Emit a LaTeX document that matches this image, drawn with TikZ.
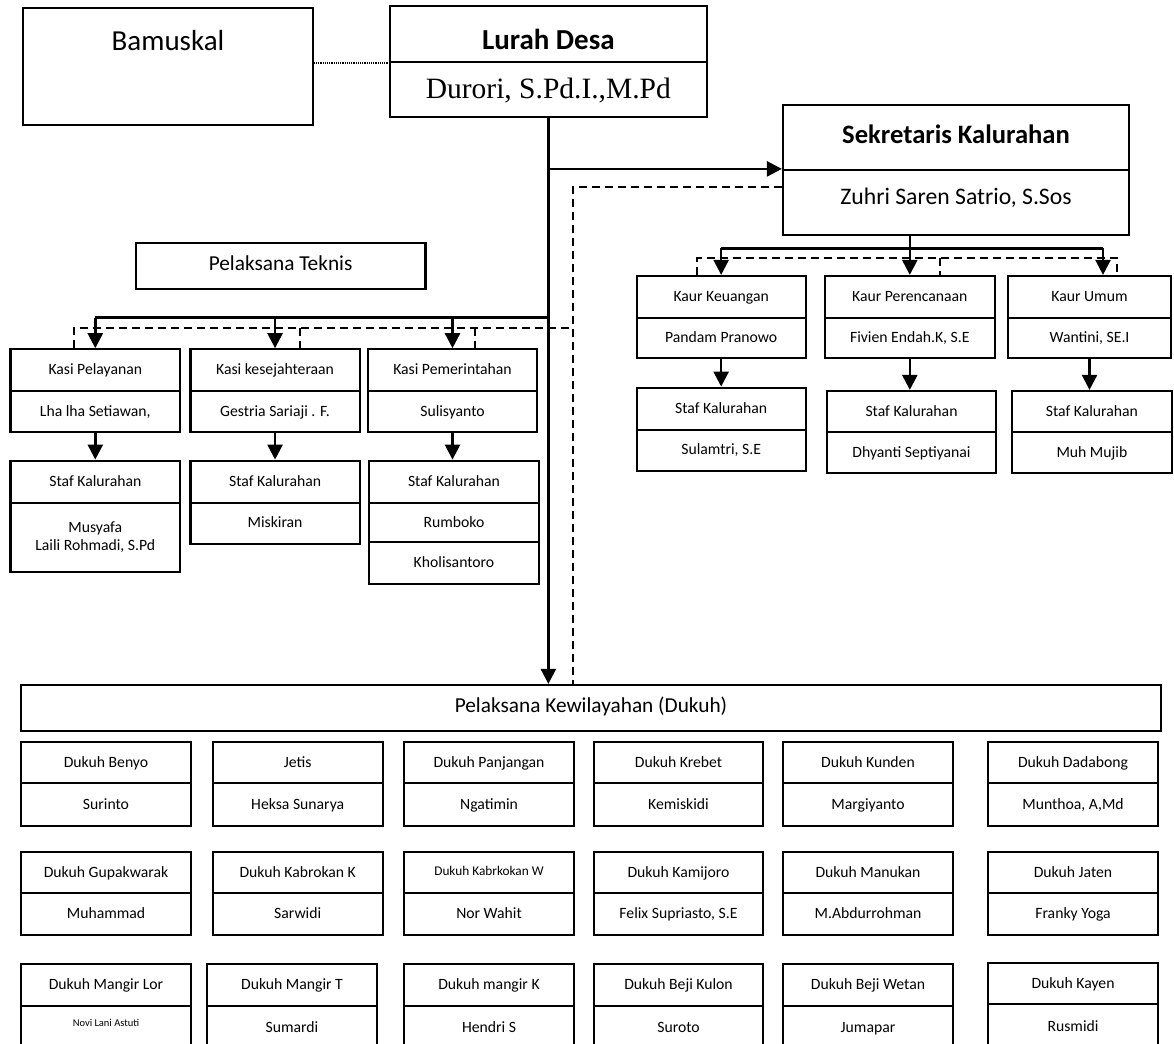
\documentclass[tikz,border=0pt]{standalone}
\usepackage{fontspec}
\setmainfont{Carlito}
\newfontfamily\timesf{Liberation Serif}
\usetikzlibrary{arrows.meta,calc}
\tikzset{
  fsmall/.style={font=\fontsize{15.7pt}{19pt}\selectfont},
  fmid/.style={font=\fontsize{21.3pt}{25pt}\selectfont},
  fbig/.style={font=\fontsize{29pt}{34pt}\selectfont},
  fbigbold/.style={font=\fontsize{29pt}{34pt}\selectfont\bfseries},
  fsek/.style={font=\fontsize{26.6pt}{31pt}\selectfont\bfseries},
  fzuh/.style={font=\fontsize{23.7pt}{28pt}\selectfont},
  ftimes/.style={font=\fontsize{29.5pt}{34pt}\selectfont\timesf},
  box/.style={draw, line width=2.2pt, inner sep=0pt, align=center, fsmall,
    text height=1em, text depth=0.1em},
  multi/.style={text height=, text depth=},
  conn/.style={line width=2.5pt},
  arr/.style={conn, -{Triangle[length=15pt,width=15pt]}},
  dsh/.style={line width=2pt, dash pattern=on 8pt off 5pt},
  dotln/.style={line width=1.5pt, dash pattern=on 1.2pt off 1pt},
}
\newcommand\mycell[7]{\node[box,minimum width={(#4)-(#2)},minimum height={(#5)-(#3)},#6] (#1) at ({((#2)+(#4))/2},{((#3)+(#5))/2}) {#7};}
\newcommand\twocell[8]{\mycell{#1}{#2}{#4}{#3}{#5}{}{#7}\mycell{#1n}{#2}{#5}{#3}{#6}{}{#8}}
\begin{document}
\begin{tikzpicture}[x=1pt,y=-1pt]
\useasboundingbox (0,0) rectangle (1174,1043);
\fill[white] (0,0) rectangle (1174,1043);
\clip (0,0) rectangle (1174,1043);

% top
\mycell{bam}{23.3}{8.3}{312.6}{125}{}{}
\node[fbig] (bamt) at (168,41) {Bamuskal};
\mycell{lurah}{390}{5.7}{706.7}{61.7}{}{}
\node[fbigbold] (lurt) at (548.35,39) {Lurah Desa};
\mycell{lurahn}{390}{61.7}{706.7}{117.3}{}{}
\node[ftimes] (lurm) at (548.35,91) {Durori, S.Pd.I.,M.Pd};

\mycell{sek}{783}{105}{1129}{170}{}{}
\node[fsek] (sekt) at (956,134) {Sekretaris Kalurahan};
\mycell{sekn}{783}{170}{1129}{235}{}{}
\node[fzuh] (sekm) at (956,198) {Zuhri Saren Satrio, S.Sos};

\mycell{pt}{135.8}{242.7}{425.4}{289}{fmid}{Pelaksana Teknis}

% kasi
\twocell{k1}{10.4}{180.2}{349.3}{391}{432.3}{Kasi Pelayanan}{Lha lha Setiawan,}
\twocell{k2}{190.5}{359.6}{349.3}{391}{432.3}{Kasi kesejahteraan}{Gestria Sariaji . F.}
\twocell{k3}{368}{537}{349.3}{391}{432.3}{Kasi Pemerintahan}{Sulisyanto}
\mycell{s1}{10.4}{460.7}{180.2}{502.7}{}{Staf Kalurahan}
\mycell{s1n}{10.4}{502.7}{180.2}{572.3}{multi}{Musyafa\\[-1pt]Laili Rohmadi, S.Pd}
\twocell{s2}{190.5}{359.6}{460.7}{502.7}{544}{Staf Kalurahan}{Miskiran}
\twocell{s3}{369}{539}{460.7}{502.7}{542.3}{Staf Kalurahan}{Rumboko}
\mycell{s3m}{369}{542.3}{539}{584}{}{Kholisantoro}

% kaur
\twocell{q1}{636.6}{805.7}{276}{317.7}{358.3}{Kaur Keuangan}{Pandam Pranowo}
\twocell{q2}{825}{994.6}{276}{317.7}{358.3}{Kaur Perencanaan}{Fivien Endah.K, S.E}
\twocell{q3}{1008}{1171}{276}{317.7}{358.3}{Kaur Umum}{Wantini, SE.I}
\twocell{t1}{636.6}{805.7}{387.7}{430}{470.7}{Staf Kalurahan}{Sulamtri, S.E}
\twocell{t2}{827}{996}{391}{432.3}{473.3}{Staf Kalurahan}{Dhyanti Septiyanai}
\twocell{t3}{1011.8}{1172}{391}{432.3}{473.3}{Staf Kalurahan}{Muh Mujib}

% pelaksana kewilayahan
\mycell{pk}{21}{685}{1161}{730.7}{fmid}{Pelaksana Kewilayahan (Dukuh)}

\twocell{d11}{21}{191}{742.3}{783.3}{825.7}{Dukuh Benyo}{Surinto}
\twocell{d12}{212.7}{382.7}{742.3}{783.3}{825.7}{Jetis}{Heksa Sunarya}
\twocell{d13}{404}{574}{742.3}{783.3}{825.7}{Dukuh Panjangan}{Ngatimin}
\twocell{d14}{593.7}{763.3}{742.3}{783.3}{825.7}{Dukuh Krebet}{Kemiskidi}
\twocell{d15}{782.7}{953.3}{742.3}{783.3}{825.7}{Dukuh Kunden}{Margiyanto}
\twocell{d16}{987.7}{1158.3}{742.3}{783.3}{825.7}{Dukuh Dadabong}{Munthoa, A,Md}

\twocell{d21}{21}{191}{852.3}{892.7}{935}{Dukuh Gupakwarak}{Muhammad}
\twocell{d22}{212.7}{382.7}{852.3}{892.7}{935}{Dukuh Kabrokan K}{Sarwidi}
\twocell{d23}{404}{574}{852.3}{892.7}{935}{\raisebox{2pt}{\fontsize{13.3pt}{16pt}\selectfont Dukuh Kabrkokan W}}{Nor Wahit}
\twocell{d24}{593.7}{763.3}{852.3}{892.7}{935}{Dukuh Kamijoro}{Felix Supriasto, S.E}
\twocell{d25}{782.7}{953.3}{852.3}{892.7}{935}{Dukuh Manukan}{M.Abdurrohman}
\twocell{d26}{987.7}{1158.3}{852.3}{892.7}{935}{Dukuh Jaten}{Franky Yoga}

\twocell{d31}{21}{191}{964.3}{1005.7}{1050}{Dukuh Mangir Lor}{\raisebox{6pt}{\fontsize{10.5pt}{12pt}\selectfont Novi Lani Astuti}}
\twocell{d32}{207.3}{376.7}{964.3}{1005.7}{1050}{Dukuh Mangir T}{Sumardi}
\twocell{d33}{404}{574}{964.3}{1005.7}{1050}{Dukuh mangir K}{Hendri S}
\twocell{d34}{593.7}{763.3}{964.3}{1005.7}{1050}{Dukuh Beji Kulon}{Suroto}
\twocell{d35}{782.7}{953.3}{964.3}{1005.7}{1050}{Dukuh Beji Wetan}{Jumapar}
\twocell{d36}{987.7}{1158.3}{963.3}{1004}{1050}{Dukuh Kayen}{Rusmidi}

% connectors
\draw[dotln] (bam.east |- lurah.south west) -- (lurah.south west);
\draw[arr] (lurahn.south) -- (lurahn.south |- pk.north);
\draw[arr] (lurahn.south |- sekn.north west) -- (sekn.north west);

\coordinate (kbus) at (0,317.7);
\coordinate (kdy) at (0,327.7);
\draw[conn] (k1.north |- kbus) -- (lurahn.south |- kbus);
\draw[arr] (k1.north |- kbus) -- (k1.north);
\draw[arr] (k2.north |- kbus) -- (k2.north);
\draw[arr] (k3.north |- kbus) -- (k3.north);
\draw[arr] (k1n.south) -- (k1n.south |- s1.north);
\draw[arr] (k2n.south) -- (k2n.south |- s2.north);
\draw[arr] (k3n.south) -- (k3n.south |- s3.north);

\coordinate (dv) at (573.4,186.7);
\draw[dsh] (sekn.west |- dv) -- (dv) -- (dv |- pk.north);
\coordinate (kd1) at ($(k1.north)+(-21.3,0)$);
\coordinate (kd2) at ($(k2.north)+(24.6,0)$);
\coordinate (kd3) at ($(k3.north)+(22.9,0)$);
\draw[dsh] (kd1) -- (kd1 |- kdy) -- (dv |- kdy);
\draw[dsh] (kd2 |- kdy) -- (kd2);
\draw[dsh] (kd3 |- kdy) -- (kd3);

\coordinate (qbus) at (0,248.3);
\coordinate (qdy) at (0,258.3);
\coordinate (q3a) at ($(q3.north)+(13.5,0)$);
\draw[conn] (q2.north |- sekn.south) -- (q2.north |- qbus);
\draw[conn] (q1.north |- qbus) -- (q3a |- qbus);
\draw[arr] (q1.north |- qbus) -- (q1.north);
\draw[arr] (q2.north |- qbus) -- (q2.north);
\draw[arr] (q3a |- qbus) -- (q3a);
\coordinate (qd1) at ($(q1.north)+(-24,0)$);
\coordinate (qd2) at ($(q2.north)+(30.6,0)$);
\coordinate (qd3) at ($(q3.north)+(27.3,0)$);
\draw[dsh] (qd1) -- (qd1 |- qdy) -- (qd3 |- qdy) -- (qd3);
\draw[dsh] (qd2 |- qdy) -- (qd2);
\draw[arr] (q1n.south) -- (q1n.south |- t1.north);
\draw[arr] (q2n.south) -- (q2n.south |- t2.north);
\draw[arr] (q3n.south) -- (q3n.south |- t3.north);
\end{tikzpicture}
\end{document}
